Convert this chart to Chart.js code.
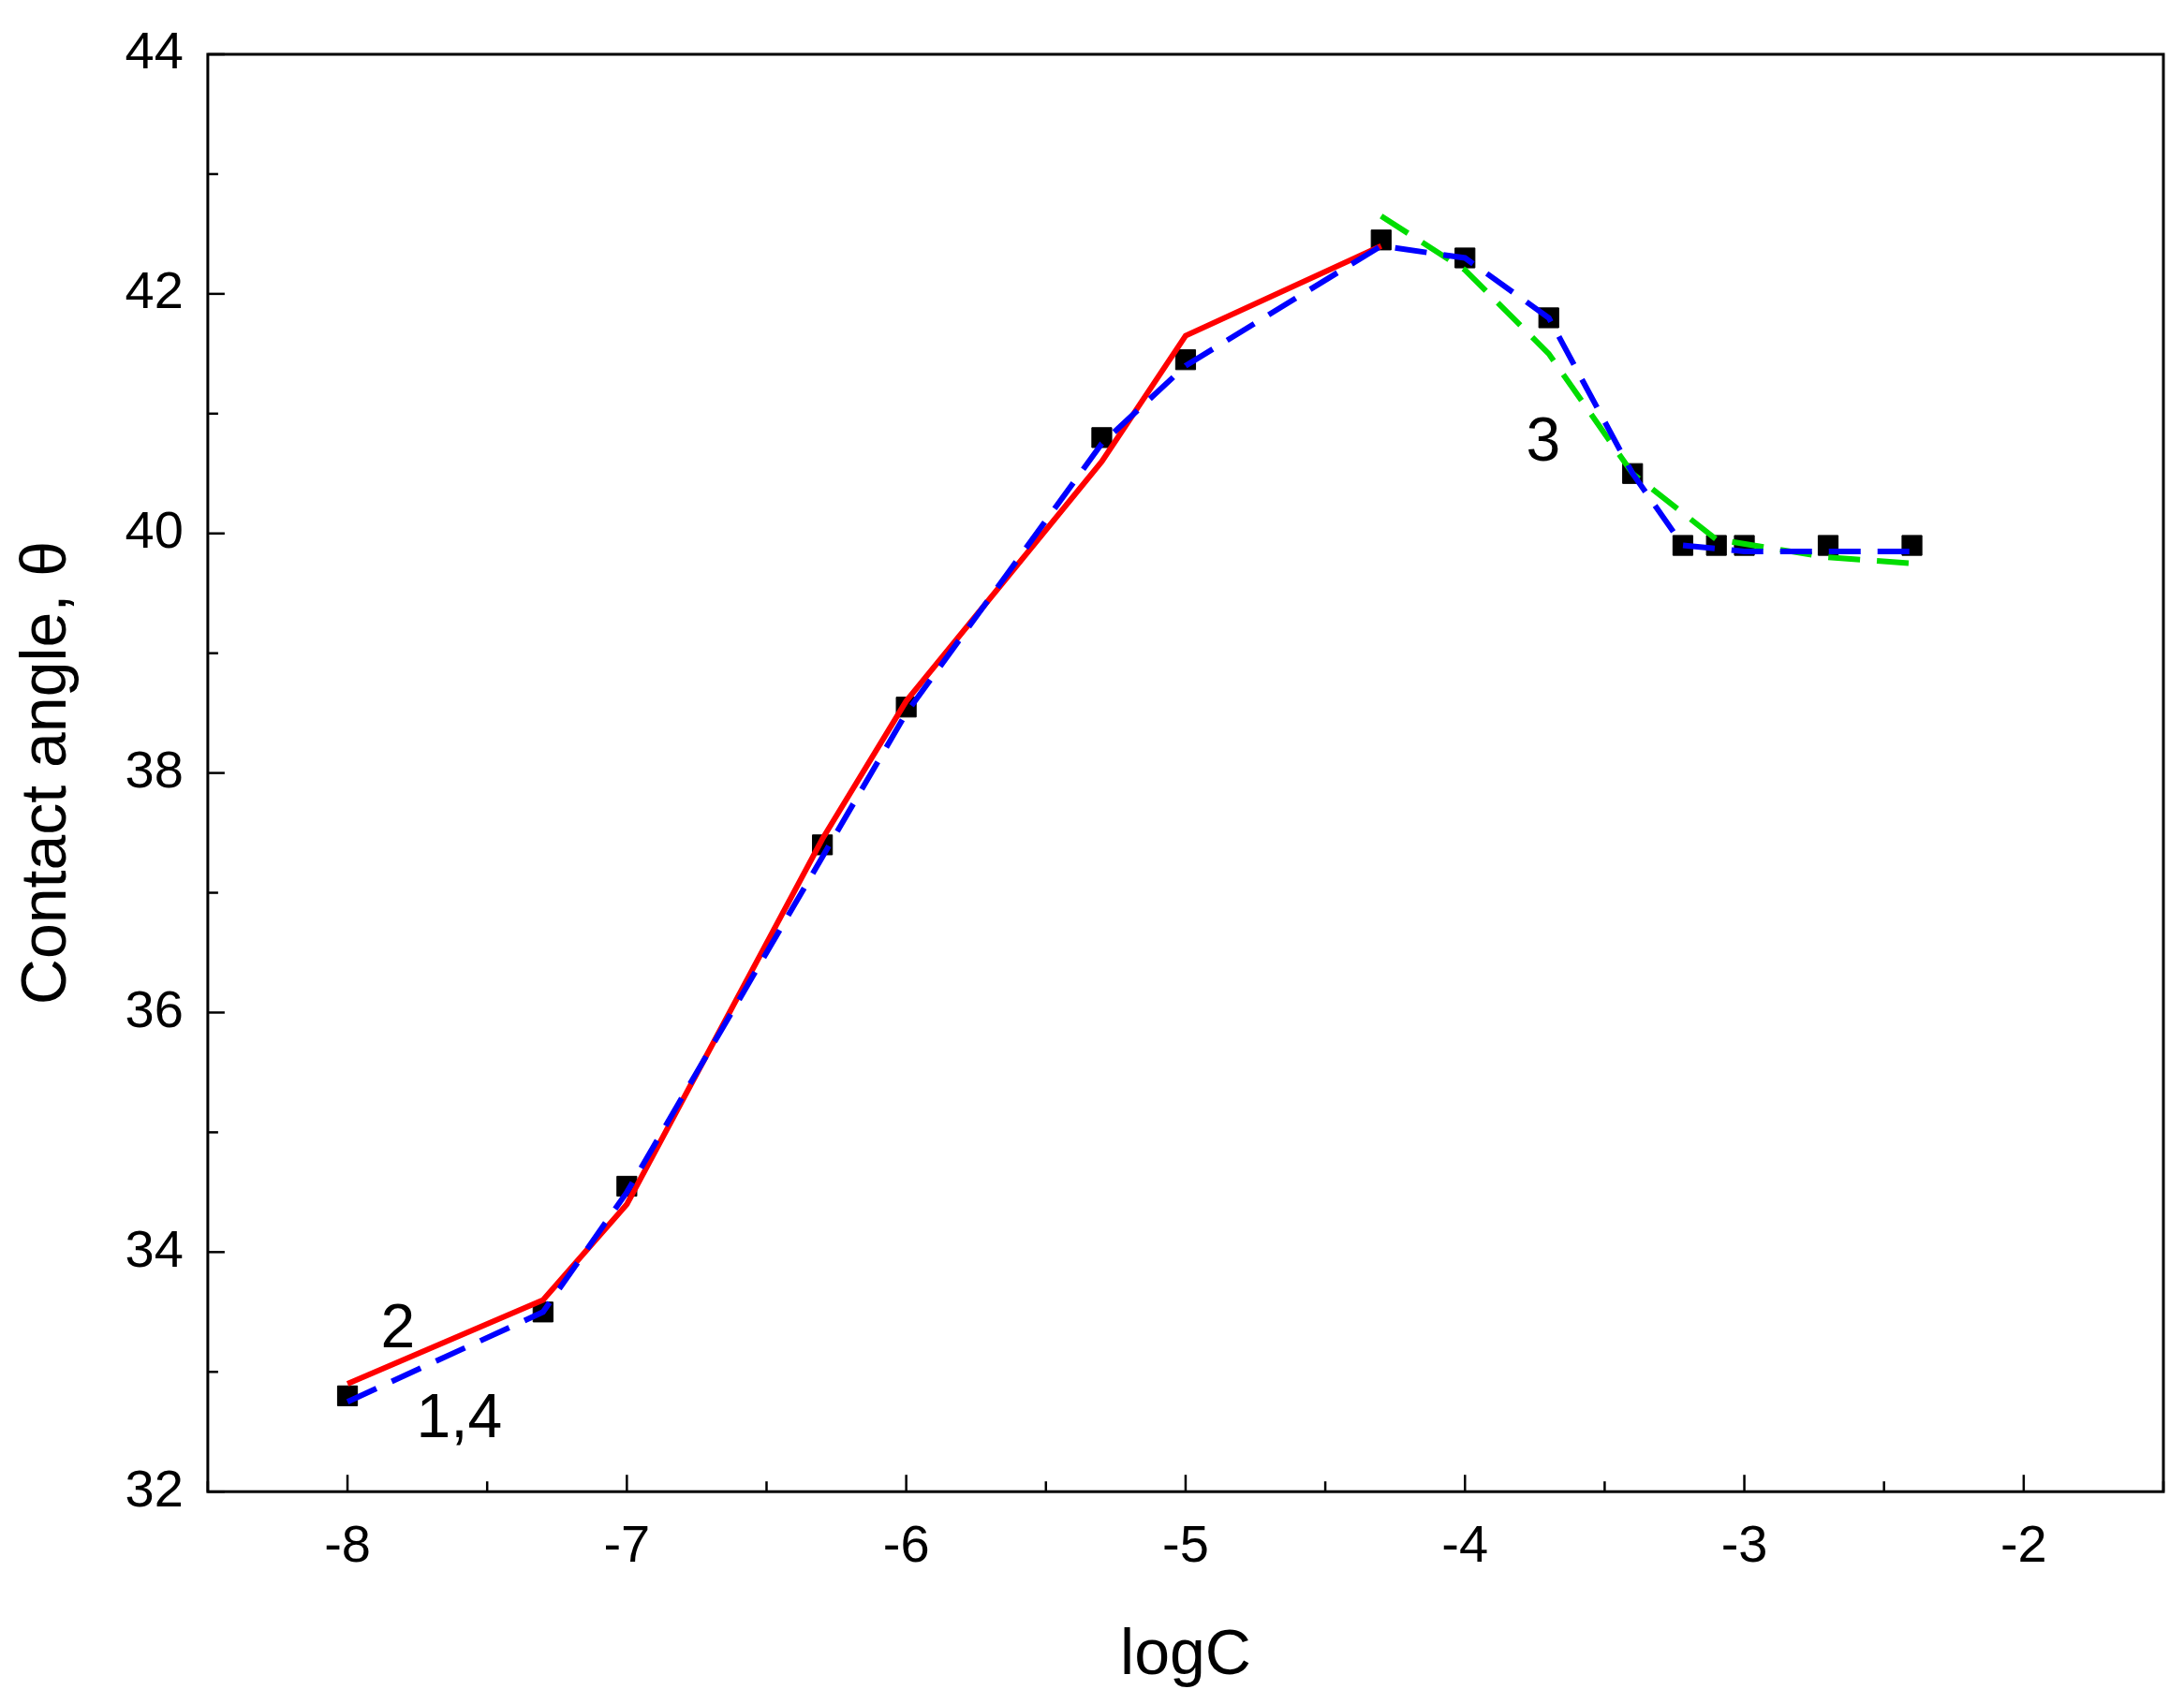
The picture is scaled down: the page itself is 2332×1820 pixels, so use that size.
<!DOCTYPE html>
<html><head><meta charset="utf-8">
<script src="https://cdn.jsdelivr.net/npm/chart.js@4"></script>
<style>html,body{margin:0;background:#fff}#w{width:2332px;height:1820px}</style>
</head><body><div id="w"><canvas id="c"></canvas></div>
<script>
const pointsX = [-8,-7.3,-7,-6.3,-6,-5.3,-5,-4.3,-4,-3.7,-3.4,-3.22,-3.1,-3,-2.7,-2.4];
const pointsY = [32.8,33.5,34.55,37.4,38.55,40.8,41.45,42.45,42.3,41.8,40.5,39.9,39.9,39.9,39.9,39.9];
const line2X = [-8,-7.3,-7,-6.3,-6,-5.3,-5,-4.3];
const line2Y = [32.9,33.6,34.4,37.45,38.6,40.6,41.65,42.4];
const line14X = [-8,-7.3,-7,-6.3,-6,-5.3,-5,-4.3,-4,-3.7,-3.4,-3.22,-3,-2.4];
const line14Y = [32.75,33.5,34.5,37.3,38.5,40.75,41.4,42.4,42.3,41.8,40.5,39.9,39.85,39.85];
const line3X = [-4.3,-4,-3.7,-3.4,-3.1,-2.7,-2.4];
const line3Y = [42.65,42.2,41.5,40.5,39.95,39.8,39.75];
const curveLabels = [{t:'2',x:-7.82,y:33.35},{t:'1,4',x:-7.6,y:32.6},{t:'3',x:-3.72,y:40.75}];
const pts=(xs,ys)=>xs.map((x,i)=>({x,y:ys[i]}));
const F='"Liberation Sans", Arial, sans-serif';
const deco={id:'deco',afterDraw(ch){
 const c=ch.ctx,a=ch.chartArea,xs=ch.scales.x,ys=ch.scales.y;
 c.save();c.strokeStyle='#000';c.lineWidth=3;
 c.strokeRect(a.left,a.top,a.right-a.left,a.bottom-a.top);
 c.lineWidth=2.5;
 for(let v=-8.5;v<=-1.5+1e-9;v+=0.5){const px=xs.getPixelForValue(v);const L=Math.abs(v-Math.round(v))<1e-6?18:11;c.beginPath();c.moveTo(px,a.bottom);c.lineTo(px,a.bottom-L);c.stroke();}
 for(let v=32;v<=44;v+=1){const py=ys.getPixelForValue(v);const L=v%2===0?18:11;c.beginPath();c.moveTo(a.left,py);c.lineTo(a.left+L,py);c.stroke();}
 c.fillStyle='#000';c.font='66px '+F;c.textAlign='center';c.textBaseline='middle';
 curveLabels.forEach(l=>c.fillText(l.t,xs.getPixelForValue(l.x),ys.getPixelForValue(l.y)));
 c.restore();}};
new Chart(document.getElementById('c'),{
 type:'scatter',
 data:{datasets:[
  {data:pts(line2X,line2Y),showLine:true,borderColor:'#ff0000',borderWidth:6,pointRadius:0,order:3},
  {data:pts(line3X,line3Y),showLine:true,borderColor:'#00dd00',borderWidth:6,borderDash:[34,18],pointRadius:0,order:2},
  {data:pts(pointsX,pointsY),showLine:false,pointStyle:'rect',pointRadius:15,backgroundColor:'#000',borderColor:'#000',order:4},
  {data:pts(line14X,line14Y),showLine:true,borderColor:'#0000ff',borderWidth:6,borderDash:[34,18],pointRadius:0,order:1}
 ]},
 options:{responsive:true,maintainAspectRatio:false,animation:false,
  layout:{padding:{left:6,right:22,top:58,bottom:6}},
  plugins:{legend:{display:false},tooltip:{enabled:false}},
  scales:{
   x:{min:-8.5,max:-1.5,grid:{display:false},border:{display:false},
      ticks:{stepSize:1,autoSkip:false,font:{size:56,family:F},color:'#000',padding:18,maxRotation:0},
      afterBuildTicks(s){s.ticks=[-8,-7,-6,-5,-4,-3,-2].map(v=>({value:v}));},
      title:{display:true,text:'logC',font:{size:68,family:F},color:'#000',padding:{top:24}}},
   y:{min:32,max:44,grid:{display:false},border:{display:false},
      ticks:{stepSize:2,font:{size:56,family:F},color:'#000',padding:18},
      title:{display:true,text:'Contact angle, θ',font:{size:68,family:F},color:'#000',padding:{bottom:24}}}
  }},
 plugins:[deco]});
</script></body></html>
